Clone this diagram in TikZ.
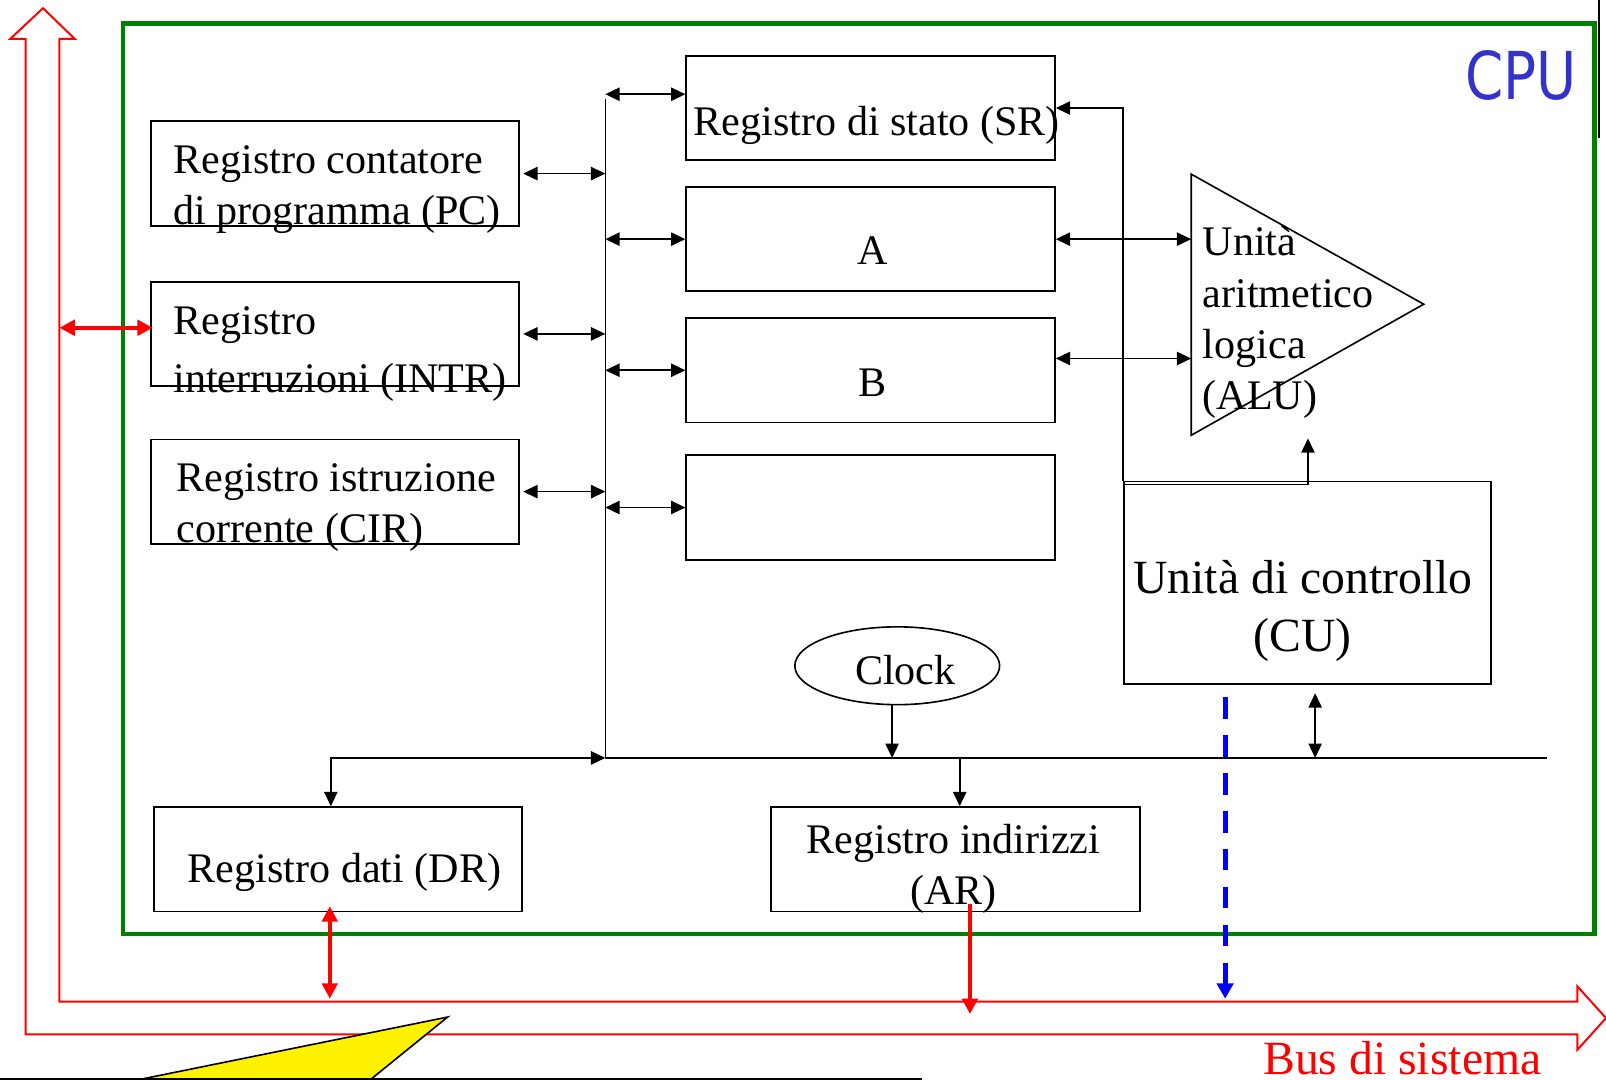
\documentclass[tikz,border=0pt]{standalone}
\usepackage{fontspec}
\setmainfont{Liberation Serif}
\newfontfamily\cpufont{DejaVu Sans}
\usetikzlibrary{arrows.meta,shapes.geometric}
\definecolor{cpublue}{RGB}{51,51,204}
\definecolor{cpugreen}{RGB}{0,128,0}

\begin{document}
\begin{tikzpicture}[x=0.02cm, y=-0.02cm,
  every node/.style = {inner sep=0pt, font=\fontsize{23.4}{28.5}\selectfont},
  reg/.style = {draw, line width=1pt, minimum width=7.2cm, minimum height=2.04cm},
  txt/.style = {anchor=base west},
  ctxt/.style = {anchor=base},
  wire/.style = {line width=0.9pt},
  arr/.style = {wire, -{Triangle[length=0.28cm,width=0.26cm]}},
  biarr/.style = {wire, {Triangle[length=0.28cm,width=0.26cm]}-{Triangle[length=0.28cm,width=0.26cm]}},
  busline/.style = {red, line width=1.1pt},
  redarr/.style = {red, line width=2.2pt, -{Triangle[length=0.3cm,width=0.3cm]}},
  redbiarr/.style = {red, line width=2.2pt, {Triangle[length=0.3cm,width=0.3cm]}-{Triangle[length=0.3cm,width=0.3cm]}},
  ]
  \useasboundingbox (0,0) rectangle (1568,1054);
  \coordinate (cTop) at (591,97);
  \coordinate (cJ) at (591,740);
  \coordinate (cEnd) at (1510,740);
  \coordinate (cIn) at (58,978);
  \coordinate (cOut) at (25,1010);
  \coordinate (aluL) at (1163,170);
  \coordinate (aluT) at (1390,297);
  \coordinate (aluB) at (1163,425);
  \coordinate (aluIn) at (1277,428);

  \draw[cpugreen, line width=2.6pt] (120,23) rectangle (1557,912);
  \draw[busline] (cOut) -- (25,38) -- (10,38) -- (42,8) -- (73,38) -- (58,38) -- (cIn)
    -- (1540,978) -- (1540,963) -- (1568,994) -- (1540,1025) -- (1540,1010) -- cycle;

  \node[reg] (nPC) at (327,169.5) {};
  \node[reg] (nINTR) at (327,326) {};
  \node[reg] (nCIR) at (327,480) {};
  \node[reg] (nSR) at (850,105.5) {};
  \node[reg] (nA) at (850,233.5) {};
  \node[reg] (nB) at (850,361.5) {};
  \node[reg] (nX) at (850,495.5) {};
  \node[reg] (nDR) at (330,839) {};
  \node[reg] (nAR) at (933,839) {};
  \node[reg, minimum width=7.18cm, minimum height=3.96cm] (nCU) at (1276.5,569) {};
  \node[draw, ellipse, wire, minimum width=4cm, minimum height=1.52cm] (nClk) at (876,650) {};
  \draw[wire] (aluL) -- (aluT) -- (aluB) -- cycle;

  \node[txt, align=left] (tPC) at (169,219) {Registro contatore\\di programma (PC)};
  \node[txt, align=left] (tINTR) at (169,383) {Registro\\[0.12cm]interruzioni (INTR)};
  \node[txt, align=left] (tCIR) at (172,530) {Registro istruzione\\corrente (CIR)};
  \node[txt] (tSR) at (677,132) {Registro di stato (SR)};
  \node[ctxt] (tA) at (852,258) {A};
  \node[ctxt] (tB) at (852,387) {B};
  \node[txt] (tDR) at (183,862) {Registro dati (DR)};
  \node[ctxt, align=center] (tAR) at (931,883) {Registro indirizzi\\(AR)};
  \node[ctxt, align=center, font=\fontsize{26.5}{32.4}\selectfont] (tCU) at (1272,636) {Unità di controllo\\(CU)};
  \node[ctxt] (tClk) at (884,668) {Clock};
  \node[txt, align=left] (tALU) at (1174,400) {Unità\\aritmetico\\logica\\(ALU)};
  \node[anchor=base east, text=cpublue, font=\cpufont\fontsize{36.7}{40}\selectfont] (tCPU) at (1540,97) {\scalebox{0.83}[1]{CPU}};
  \node[txt, text=red, font=\fontsize{26.5}{30}\selectfont] (tBus) at (1233,1049) {Bus di sistema};

  \draw[wire] (cTop) -- (cJ) -- (cEnd);
  \foreach \n in {nPC,nINTR,nCIR}
    \draw[biarr] ([xshift=0.06cm]\n.east) -- (\n.east -| cTop);
  \foreach \n in {nA,nX}
    \draw[biarr] (\n.west -| cTop) -- (\n.west);
  \draw[biarr] ([yshift=0.27cm]nSR.west -| cTop) -- ([yshift=0.27cm]nSR.west);
  \draw[biarr] (nB.west -| cTop) -- (nB.west);
  \draw[biarr] (nA.east) -- (nA.east -| aluL);
  \draw[biarr] ([yshift=0.23cm]nB.east) -- ([yshift=0.23cm]nB.east -| aluL);
  \draw[arr] (nCU.north west) |- (nSR.east);
  \draw[arr] ([yshift=-0.08cm]nCU.north west) -| (aluIn);
  \draw[biarr] ([xshift=-0.14cm]nDR.north) |- (cJ);
  \draw[arr] ([xshift=-0.1cm]nClk.south) -- ([xshift=-0.1cm]nClk.south |- cJ);
  \draw[arr] ([xshift=0.08cm]nAR.north |- cJ) -- ([xshift=0.08cm]nAR.north);
  \draw[biarr] ([xshift=0.15cm,yshift=-0.16cm]nCU.south) -- ([xshift=0.15cm]nCU.south |- cJ);
  \draw[blue, line width=2.8pt, dash pattern=on 0.42cm off 0.32cm, -{Triangle[length=0.3cm,width=0.32cm]}]
    ([xshift=2cm,yshift=-0.24cm]nCU.south west) -- ([xshift=2cm,yshift=0.06cm]nCU.south west |- cIn);

  \draw[redbiarr] ([xshift=0.06cm,yshift=0.12cm]nINTR.west) -- ([yshift=0.12cm]nINTR.west -| cIn);
  \draw[redbiarr] ([xshift=-0.16cm,yshift=0.12cm]nDR.south) -- ([xshift=-0.16cm,yshift=0.06cm]nDR.south |- cIn);
  \draw[redarr] ([xshift=0.28cm,yshift=0.16cm]nAR.south) -- ([xshift=0.28cm,yshift=-0.24cm]nAR.south |- cIn);

  \draw[line width=1.1pt] (1561,0) -- (1561,135);
  \filldraw[fill=yellow, draw=black, line width=0.9pt] (57,1070) -- (437,993) -- (342,1070) -- cycle;
  \draw[line width=1.1pt] (0,1053) -- (900,1053);
\end{tikzpicture}
\end{document}
